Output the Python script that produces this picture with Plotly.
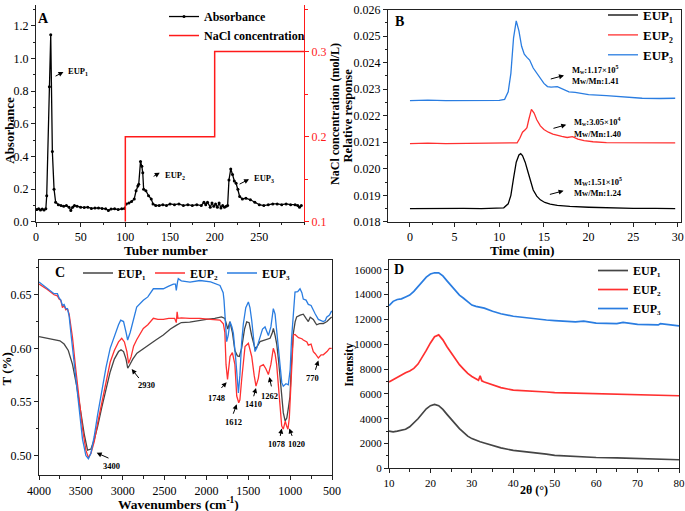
import plotly.graph_objects as go

W, H = 685, 511
FONT = "Liberation Serif"
BLUE = "#2a7de1"
RED = "#ff3030"
GRAY = "#454545"

# ---------------- Panel A data ----------------
tuber = [1, 3, 5, 7, 9, 11, 12, 15, 16.5, 18.3, 20.2, 22, 25, 28, 31, 34, 37, 39, 41, 43, 46, 50, 54, 58,
         62, 66, 70, 74, 78, 81, 84, 88, 92, 96, 99, 101, 104, 107, 110, 112, 114, 115, 117, 118.5, 119.5,
         120.5, 123, 126, 129, 131, 134, 138, 142, 146, 150, 155, 160, 165, 170, 175, 180, 185, 188, 190,
         192, 195, 197, 199, 201, 203, 205, 207, 209, 211, 213, 214.5, 216, 218, 220, 222, 224, 226, 228,
         231, 235, 240, 245, 250, 255, 260, 265, 270, 275, 280, 285, 290, 293, 295, 297]
absorbance = [0.075, 0.08, 0.072, 0.078, 0.072, 0.08, 0.16, 0.826, 1.145, 0.43, 0.2, 0.12, 0.105, 0.1,
              0.095, 0.1, 0.09, 0.07, 0.09, 0.1, 0.095, 0.09, 0.088, 0.09, 0.082, 0.085, 0.085, 0.082, 0.08,
              0.07, 0.078, 0.08, 0.075, 0.08, 0.082, 0.11, 0.115, 0.125, 0.14, 0.19, 0.22, 0.23, 0.37, 0.34,
              0.3, 0.2, 0.19, 0.16, 0.14, 0.11, 0.1, 0.1, 0.105, 0.1, 0.11, 0.105, 0.11, 0.1, 0.105, 0.1,
              0.105, 0.1, 0.12, 0.105, 0.12, 0.09, 0.115, 0.095, 0.11, 0.09, 0.115, 0.085, 0.1, 0.09, 0.095,
              0.1, 0.256, 0.323, 0.29, 0.25, 0.236, 0.2, 0.155, 0.14, 0.145, 0.135, 0.12, 0.105, 0.1, 0.105,
              0.11, 0.11, 0.105, 0.11, 0.105, 0.105, 0.1, 0.09, 0.1]
nacl_tuber = [100, 100, 200, 200, 300]
nacl_conc = [0.1, 0.2, 0.2, 0.3, 0.3]

# ---------------- Panel B data ----------------
t_eup1 = [0, 2, 4, 6, 8, 10, 10.5, 11, 11.3, 11.6, 11.9, 12.2, 12.4, 12.6, 12.9, 13.2, 13.5, 13.8, 14.2,
          14.6, 15.1, 15.7, 16.5, 17.9, 20, 22, 25, 27.5, 29.7]
r_eup1 = [0.01850, 0.01851, 0.01850, 0.01851, 0.01850, 0.01851, 0.01853, 0.01868, 0.01900, 0.01965,
          0.02025, 0.02052, 0.02057, 0.02050, 0.02025, 0.01990, 0.01950, 0.01920, 0.01897, 0.01883,
          0.01873, 0.01867, 0.01862, 0.01858, 0.01855, 0.01853, 0.01851, 0.01851, 0.01850]
t_eup2 = [0, 2, 4, 6, 8, 10, 11, 12, 12.3, 12.6, 12.9, 13.1, 13.3, 13.6, 13.9, 14.2, 14.6, 15.0, 15.5,
          16.0, 17.0, 17.6, 18.2, 18.8, 19.5, 20.5, 22, 25, 27.5, 29.7]
r_eup2 = [0.02095, 0.02097, 0.02095, 0.02096, 0.02095, 0.02096, 0.02097, 0.02098, 0.02115, 0.02138,
          0.02147, 0.02155, 0.02185, 0.02224, 0.02210, 0.02185, 0.02162, 0.02148, 0.02138, 0.02131,
          0.02122, 0.02118, 0.02121, 0.02112, 0.02106, 0.02102, 0.02099, 0.02098, 0.02098, 0.02098]
t_eup3 = [0, 2, 4, 6, 8, 10, 10.6, 11.0, 11.3, 11.6, 11.9, 12.2, 12.5, 12.8, 13.1, 13.4, 13.8, 14.2, 14.6,
          15.0, 15.4, 15.8, 16.5, 17.2, 17.8, 18.5, 20, 22, 24, 26, 28, 29.7]
r_eup3 = [0.02257, 0.02259, 0.02257, 0.02258, 0.02257, 0.02258, 0.02262, 0.02290, 0.02360, 0.02494,
          0.02558, 0.02520, 0.02462, 0.02432, 0.02420, 0.02410, 0.02380, 0.02360, 0.02342, 0.02322,
          0.02310, 0.02308, 0.02310, 0.02300, 0.02290, 0.02288, 0.02280, 0.02276, 0.02270, 0.02266,
          0.02265, 0.02266]

# ---------------- Panel C data ----------------
wn_eup1 = [4000, 3850, 3750, 3700, 3650, 3600, 3550, 3500, 3460, 3420, 3380, 3340, 3300, 3250, 3200, 3150,
           3100, 3050, 3020, 2990, 2960, 2940, 2920, 2880, 2830, 2750, 2670, 2600, 2515, 2430, 2356, 2300,
           2200, 2100, 2000, 1900, 1820, 1780, 1760, 1745, 1720, 1690, 1660, 1630, 1607, 1580, 1545, 1519,
           1490, 1460, 1420, 1400, 1360, 1300, 1240, 1215, 1200, 1180, 1160, 1140, 1121, 1100, 1082, 1060,
           1040, 1020, 1002, 985, 962, 940, 922, 880, 843, 810, 783, 760, 723, 700, 683, 650, 604, 560, 530,
           504]
tr_eup1 = [0.611, 0.609, 0.607, 0.604, 0.598, 0.585, 0.565, 0.54, 0.52, 0.505, 0.506, 0.515, 0.527, 0.545,
           0.562, 0.578, 0.59, 0.597, 0.5986, 0.597, 0.59, 0.5816, 0.584, 0.59, 0.5955, 0.6, 0.6047, 0.608,
           0.6125, 0.618, 0.6217, 0.6241, 0.6245, 0.626, 0.627, 0.628, 0.6294, 0.628, 0.622, 0.618, 0.625,
           0.615, 0.598, 0.593, 0.5924, 0.6, 0.618, 0.6248, 0.624, 0.612, 0.6, 0.601, 0.6063, 0.608, 0.6094,
           0.614, 0.6186, 0.612, 0.604, 0.59, 0.574, 0.555, 0.54, 0.5324, 0.535, 0.545, 0.555, 0.585, 0.614,
           0.625, 0.6294, 0.631, 0.6319, 0.628, 0.625, 0.629, 0.627, 0.624, 0.622, 0.623, 0.6232, 0.625,
           0.627, 0.6294]
wn_eup2 = [4000, 3900, 3820, 3780, 3760, 3740, 3720, 3700, 3680, 3660, 3640, 3620, 3600, 3560, 3520, 3480,
           3440, 3410, 3380, 3340, 3300, 3250, 3200, 3150, 3100, 3050, 3012, 2980, 2950, 2930, 2900, 2870,
           2833, 2754, 2700, 2634, 2580, 2515, 2450, 2380, 2360, 2350, 2340, 2300, 2200, 2077, 1950, 1838,
           1798, 1780, 1766, 1748, 1718, 1690, 1660, 1638, 1614, 1600, 1579, 1539, 1499, 1459, 1430, 1408,
           1380, 1360, 1320, 1290, 1260, 1230, 1201, 1180, 1161, 1129, 1101, 1082, 1070, 1058, 1040, 1026,
           1010, 994, 975, 962, 942, 900, 860, 843, 800, 783, 750, 723, 700, 663, 630, 604, 560, 530, 504]
tr_eup2 = [0.660, 0.655, 0.650, 0.649, 0.646, 0.645, 0.638, 0.640, 0.636, 0.637, 0.632, 0.62, 0.61, 0.58,
           0.55, 0.525, 0.505, 0.498, 0.502, 0.513, 0.53, 0.55, 0.57, 0.587, 0.598, 0.606, 0.6093, 0.606,
           0.597, 0.586, 0.592, 0.602, 0.608, 0.6186, 0.622, 0.628, 0.627, 0.627, 0.628, 0.628, 0.624, 0.634,
           0.628, 0.6285, 0.628, 0.628, 0.627, 0.6263, 0.623, 0.615, 0.585, 0.571, 0.5924, 0.596, 0.585,
           0.5555, 0.5493, 0.552, 0.5709, 0.6017, 0.6047, 0.5924, 0.575, 0.5647, 0.572, 0.5832, 0.5848,
           0.581, 0.5755, 0.585, 0.6001, 0.595, 0.585, 0.5555, 0.5277, 0.5246, 0.53, 0.532, 0.527, 0.5246,
           0.535, 0.561, 0.595, 0.6125, 0.613, 0.61, 0.609, 0.6078, 0.606, 0.603, 0.604, 0.597, 0.595, 0.591,
           0.594, 0.594, 0.597, 0.6, 0.6]
wn_eup3 = [4000, 3900, 3820, 3780, 3760, 3740, 3720, 3700, 3680, 3660, 3640, 3620, 3600, 3560, 3520, 3480,
           3440, 3410, 3380, 3340, 3300, 3250, 3200, 3150, 3100, 3050, 3024, 2990, 2960, 2941, 2910, 2870,
           2833, 2754, 2700, 2634, 2580, 2515, 2450, 2395, 2370, 2360, 2345, 2336, 2300, 2196, 2077, 1950,
           1838, 1800, 1790, 1770, 1758, 1740, 1718, 1695, 1678, 1650, 1630, 1618, 1600, 1580, 1559, 1530,
           1499, 1480, 1459, 1440, 1420, 1400, 1360, 1330, 1300, 1280, 1260, 1230, 1201, 1180, 1161, 1121,
           1100, 1082, 1050, 1022, 1000, 982, 960, 942, 910, 882, 860, 843, 810, 783, 750, 723, 700, 663,
           630, 604, 580, 564, 530, 504]
tr_eup3 = [0.662, 0.656, 0.651, 0.651, 0.647, 0.645, 0.640, 0.641, 0.637, 0.637, 0.630, 0.615, 0.6, 0.57,
           0.54, 0.515, 0.5, 0.497, 0.502, 0.518, 0.538, 0.56, 0.582, 0.6, 0.612, 0.622, 0.6263, 0.625,
           0.615, 0.6078, 0.615, 0.628, 0.6386, 0.6448, 0.648, 0.6556, 0.6556, 0.6556, 0.658, 0.66, 0.66,
           0.654, 0.662, 0.665, 0.663, 0.6618, 0.6633, 0.662, 0.6587, 0.652, 0.645, 0.625, 0.6063, 0.612,
           0.6248, 0.62, 0.614, 0.59, 0.57, 0.5585, 0.575, 0.605, 0.623, 0.638, 0.6433, 0.638, 0.626, 0.612,
           0.597, 0.6, 0.611, 0.618, 0.62, 0.616, 0.612, 0.62, 0.637, 0.632, 0.618, 0.583, 0.568, 0.5647,
           0.567, 0.566, 0.58, 0.61, 0.64, 0.6525, 0.653, 0.6556, 0.652, 0.646, 0.645, 0.641, 0.64, 0.635,
           0.632, 0.627, 0.626, 0.625, 0.626, 0.629, 0.631, 0.635]

# ---------------- Panel D data ----------------
th_eup1 = [10, 11, 12, 13, 14, 15, 16, 17, 18, 19, 20, 21, 22, 23, 24, 25, 26, 27, 28, 29, 30, 31, 32, 33,
           35, 37, 40, 43, 45, 48, 50, 55, 57, 60, 65, 66.5, 70, 75, 75.5, 80]
in_eup1 = [3000, 2950, 3000, 3050, 3150, 3350, 3650, 4000, 4400, 4800, 5050, 5150, 5050, 4750, 4350, 3950,
           3550, 3200, 2900, 2600, 2400, 2250, 2150, 2050, 1850, 1650, 1450, 1350, 1300, 1150, 1050, 950,
           950, 880, 850, 840, 800, 760, 760, 700]
th_eup2 = [10, 11, 12, 13, 14, 15, 16, 17, 18, 19, 20, 21, 22, 23, 24, 25, 26, 27, 28, 29, 30, 31, 31.6,
           32, 32.4, 33, 35, 37, 40, 43, 45, 48, 50, 55, 57, 60, 65, 70, 75, 80]
in_eup2 = [6950, 7150, 7300, 7500, 7700, 7850, 8050, 8400, 8900, 9500, 10100, 10600, 10750, 10350, 9800,
           9300, 8800, 8350, 8000, 7650, 7400, 7200, 7100, 7450, 7050, 6950, 6700, 6500, 6300, 6250, 6250,
           6150, 6100, 6050, 6020, 6000, 5980, 5950, 5900, 5850]
th_eup3 = [10, 11, 12, 13, 14, 15, 16, 17, 18, 19, 20, 21, 22, 23, 24, 25, 26, 27, 28, 29, 30, 31, 32, 33,
           35, 37, 40, 43, 45, 48, 50, 55, 57, 60, 65, 66.5, 70, 75, 75.5, 80]
in_eup3 = [13100, 13450, 13600, 13650, 13800, 13950, 14250, 14650, 15050, 15400, 15650, 15750, 15750, 15500,
           15100, 14700, 14300, 13950, 13700, 13450, 13150, 13050, 13000, 12900, 12650, 12450, 12250, 12120,
           12050, 11950, 11900, 11800, 11850, 11700, 11650, 11750, 11600, 11550, 11650, 11480]

EUP = ["<b>EUP₁</b>", "<b>EUP₂</b>", "<b>EUP₃</b>"]


def px(p):
    return p / W


def py(p):
    return 1 - p / H


fig = go.Figure()

# Panel A
fig.add_trace(go.Scatter(x=tuber, y=absorbance, mode="lines+markers", name="<b>Absorbance</b>",
                         line=dict(color="black", width=1.3), marker=dict(size=3, color="black"),
                         xaxis="x", yaxis="y", legend="legend"))
fig.add_trace(go.Scatter(x=nacl_tuber, y=nacl_conc, mode="lines", name="<b>NaCl concentration</b>",
                         line=dict(color="#ff1a1a", width=1.5), xaxis="x", yaxis="y5", legend="legend"))
# Panel B
for t, r, c, n in [(t_eup1, r_eup1, "black", EUP[0]), (t_eup2, r_eup2, RED, EUP[1]), (t_eup3, r_eup3, BLUE, EUP[2])]:
    fig.add_trace(go.Scatter(x=t, y=r, mode="lines", name=n, line=dict(color=c, width=1.3),
                             xaxis="x2", yaxis="y2", legend="legend2"))
# Panel C
for w, v, c, n in [(wn_eup1, tr_eup1, GRAY, EUP[0]), (wn_eup2, tr_eup2, RED, EUP[1]), (wn_eup3, tr_eup3, BLUE, EUP[2])]:
    fig.add_trace(go.Scatter(x=w, y=v, mode="lines", name=n, line=dict(color=c, width=1.3),
                             xaxis="x3", yaxis="y3", legend="legend3"))
# Panel D
for th, v, c, n in [(th_eup1, in_eup1, GRAY, EUP[0]), (th_eup2, in_eup2, RED, EUP[1]), (th_eup3, in_eup3, BLUE, EUP[2])]:
    fig.add_trace(go.Scatter(x=th, y=v, mode="lines", name=n, line=dict(color=c, width=1.7),
                             xaxis="x4", yaxis="y4", legend="legend4"))


def ax(domain, rng, dtick, minor, anchor, mirror=False, color="#222", size=12, fmt=None):
    d = dict(domain=domain, range=rng, dtick=dtick, tick0=0, anchor=anchor, showline=True, linecolor=color,
             linewidth=1, ticks="outside", ticklen=4, tickwidth=1, tickcolor=color, showgrid=False,
             zeroline=False, mirror=mirror, autorange=False, automargin=False,
             minor=dict(ticks="outside", ticklen=2.5, tickcolor=color, dtick=minor, showgrid=False),
             tickfont=dict(family=FONT, size=size, color=color if color != "#222" else "black"))
    if fmt:
        d["tickformat"] = fmt
    return d


layout = dict(width=W, height=H, autosize=False, margin=dict(l=0, r=0, t=0, b=0, pad=0),
              paper_bgcolor="white", plot_bgcolor="white", font=dict(family=FONT, color="black"))

# A axes
layout["xaxis"] = ax([px(36), px(304)], [0, 300], 50, 25, "y", size=12)
layout["xaxis"]["tickvals"] = [0, 50, 100, 150, 200, 250]
layout["yaxis"] = ax([py(219), 1.0], [0, 1.327], 0.2, 0.1, "x", size=12, fmt=".1f")
layout["yaxis5"] = ax([py(219), 1.0], [0.1, 0.3547], 0.1, 0.05, "x", color="#ff1a1a", size=12, fmt=".1f")
layout["yaxis5"].update(overlaying="y", side="right")
layout["yaxis5"].pop("domain")
# B axes
layout["xaxis2"] = ax([px(388), px(681)], [-2.46, 30.35], 5, 2.5, "y2", mirror=True, size=12)
layout["yaxis2"] = ax([py(219), py(4.7)], [0.018, 0.026], 0.001, 0.0005, "x2", mirror=True, size=12, fmt=".3f")
# C axes
layout["xaxis3"] = ax([px(39), px(332)], [4000, 500], 500, 250, "y3", mirror=True, size=12)
layout["yaxis3"] = ax([py(475), py(258)], [0.4815, 0.682], 0.05, 0.025, "x3", mirror=True, size=12, fmt=".2f")
# D axes
layout["xaxis4"] = ax([px(389), px(679)], [10, 80], 10, 5, "y4", mirror=True, size=11)
layout["yaxis4"] = ax([py(468), py(258)], [0, 16740], 2000, 1000, "x4", mirror=True, size=11)
layout["yaxis4"]["tickformat"] = "d"

leg = dict(bgcolor="rgba(0,0,0,0)", borderwidth=0, font=dict(family=FONT, size=12, color="black"),
           xanchor="left", yanchor="top", itemwidth=30, tracegroupgap=0)
layout["legend"] = dict(leg, x=px(164), y=py(-3))
layout["legend2"] = dict(leg, x=px(603), y=py(-5), font=dict(family=FONT, size=13, color="black"))
layout["legend3"] = dict(leg, x=px(78), y=py(256), orientation="h", entrywidth=27, entrywidthmode="pixels")
layout["legend4"] = dict(leg, x=px(593), y=py(253.5))

fig.update_layout(**layout)

ann = []


def text(x, y, s, size=13, xref="paper", yref="paper", angle=0, color="black", xanchor="center"):
    ann.append(dict(x=x, y=y, xref=xref, yref=yref, text=s, showarrow=False, textangle=angle,
                    font=dict(family=FONT, size=size, color=color), xanchor=xanchor, yanchor="middle"))


def arrow(xt, yt, xh, yh, xr, yr):
    ann.append(dict(x=xh, y=yh, ax=xt, ay=yt, xref=xr, yref=yr, axref=xr, ayref=yr, text="",
                    showarrow=True, arrowhead=2, arrowsize=1, arrowwidth=1, arrowcolor="black"))


# Panel letters
text(px(43), py(14), "<b>A</b>", 14)
text(px(400), py(17), "<b>B</b>", 14)
text(px(60), py(270), "<b>C</b>", 14)
text(px(399), py(267), "<b>D</b>", 14)

# Axis titles
text(px(10), py(127), "<b>Absorbance</b>", 13, angle=-90)
text(px(166), py(248), "<b>Tuber number</b>", 13.5)
text(px(335), py(110), "<b>NaCl concentration (mol/L)</b>", 12, angle=-90)
text(px(347.5), py(112), "<b>Relative response</b>", 12.5, angle=-90)
text(px(522), py(248), "<b>Time (min)</b>", 13.5)
text(px(6), py(368), "<b>T (%)</b>", 13, angle=-90)
text(px(178), py(503), "<b>Wavenumbers (cm<sup>-1</sup>)</b>", 13.5)
text(px(349), py(363), "<b>Intensity</b>", 11.5, angle=-90)
text(px(534), py(490), "<b>2θ (°)</b>", 12)

# Panel A peak labels
text(33.5, 0.923, "<b>EUP<sub>1</sub></b>", 8.5, "x", "y", xanchor="left")
arrow(20.2, 0.887, 30.7, 0.917, "x", "y")
text(142.5, 0.285, "<b>EUP<sub>2</sub></b>", 8.5, "x", "y", xanchor="left")
arrow(130, 0.273, 138.5, 0.301, "x", "y")
text(242, 0.267, "<b>EUP<sub>3</sub></b>", 8.5, "x", "y", xanchor="left")
arrow(226.2, 0.226, 238.5, 0.261, "x", "y")

# Panel B molecular weight labels
for (tx, v1, v2, s1, s2, a) in [
    (17.9, 0.02374, 0.02330, "<b>M<sub>w</sub>:1.17×10<sup>5</sup></b>", "<b>Mw/Mn:1.41</b>", (15.6, 0.02337, 17.25, 0.02352)),
    (18.1, 0.02180, 0.02132, "<b>M<sub>w</sub>:3.05×10<sup>4</sup></b>", "<b>Mw/Mn:1.40</b>", (15.9, 0.02151, 17.5, 0.02166)),
    (18.1, 0.01953, 0.01908, "<b>M<sub>W</sub>:1.51×10<sup>5</sup></b>", "<b>Mw/Mn:1.24</b>", (15.5, 0.01902, 17.2, 0.01917)),
]:
    text(tx, v1, s1, 8.5, "x2", "y2", xanchor="left")
    text(tx, v2, s2, 8.5, "x2", "y2", xanchor="left")
    arrow(a[0], a[1], a[2], a[3], "x2", "y2")

# Panel C band labels
bands = [("3400", (3130, 0.4905), (3152, 0.497), (3311, 0.5025)),
         ("2930", (2713, 0.5656), (2793, 0.5709), (2893, 0.5807)),
         ("1748", (1877, 0.5539), (1838, 0.5616), (1758, 0.5684)),
         ("1612", (1679, 0.5314), (1686, 0.5376), (1638, 0.5478)),
         ("1410", (1440, 0.5478), (1440, 0.5539), (1408, 0.5631)),
         ("1262", (1249, 0.5555), (1220, 0.5631), (1249, 0.5733)),
         ("1078", (1160, 0.5108), (1121, 0.5169), (1101, 0.5252)),
         ("1020", (922, 0.5108), (970, 0.5169), (1010, 0.5252)),
         ("770", (730, 0.5724), (703, 0.5786), (663, 0.5887))]
for lab, tp, tail, head in bands:
    text(tp[0], tp[1], "<b>" + lab + "</b>", 8.5, "x3", "y3")
    arrow(tail[0], tail[1], head[0], head[1], "x3", "y3")

fig.update_layout(annotations=ann)
fig.write_html("out.html", config={"displayModeBar": False},
               post_script="document.body.style.margin='0';document.body.style.padding='0';"
                           "document.body.style.overflow='hidden';")
